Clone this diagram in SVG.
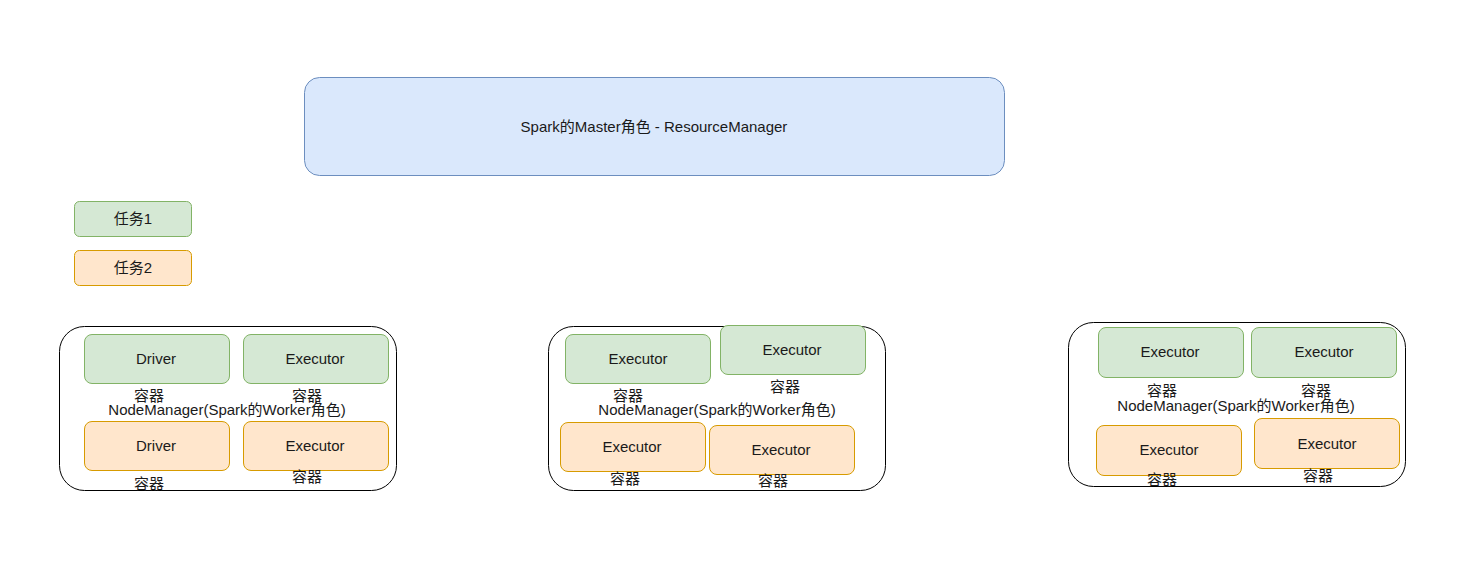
<svg xmlns="http://www.w3.org/2000/svg" width="1474" height="572" viewBox="0 0 1474 572">
<style>
text{font-family:"Liberation Sans","Noto Sans CJK SC",Arial,sans-serif;font-size:15px;fill:#1a1a1a;text-anchor:middle}
.m{fill:#dae8fc;stroke:#6c8ebf;stroke-width:1}
.g{fill:#d5e8d4;stroke:#82b366;stroke-width:1}
.o{fill:#ffe6cc;stroke:#d79b00;stroke-width:1}
.n{fill:#fff;stroke:#000;stroke-width:1}
</style>
<rect width="1474" height="572" fill="#fff"/>
<g id="master"><rect class="m" x="304.5" y="77.5" width="700" height="98" rx="15"/><text x="654" y="132">Spark的Master角色 - ResourceManager</text></g>
<g id="task1"><rect class="g" x="74.5" y="201.5" width="117" height="35" rx="5"/><text x="133" y="224">任务1</text></g>
<g id="task2"><rect class="o" x="74.5" y="250.5" width="117" height="35" rx="5"/><text x="133" y="273">任务2</text></g>

<g id="node1">
<rect class="n" x="59.5" y="326.5" width="337" height="164" rx="25"/>
<text x="227" y="415">NodeManager(Spark的Worker角色)</text>
</g>
<g id="n1-driver-g"><rect class="g" x="84.5" y="334.5" width="145" height="49" rx="7.5"/><text x="156" y="364">Driver</text><text x="149" y="401">容器</text></g>
<g id="n1-exec-g"><rect class="g" x="243.5" y="334.5" width="145" height="49" rx="7.5"/><text x="315" y="364">Executor</text><text x="307" y="401">容器</text></g>
<g id="n1-driver-o"><rect class="o" x="84.5" y="421.5" width="145" height="49" rx="7.5"/><text x="156" y="451">Driver</text><text x="149" y="489">容器</text></g>
<g id="n1-exec-o"><rect class="o" x="243.5" y="421.5" width="145" height="49" rx="7.5"/><text x="315" y="451">Executor</text><text x="307" y="482">容器</text></g>

<g id="node2">
<rect class="n" x="548.5" y="326.5" width="337" height="164" rx="25"/>
<text x="717" y="415">NodeManager(Spark的Worker角色)</text>
</g>
<g id="n2-exec-g1"><rect class="g" x="565.5" y="334.5" width="145" height="49" rx="7.5"/><text x="638" y="364">Executor</text><text x="628" y="401">容器</text></g>
<g id="n2-exec-g2"><rect class="g" x="720.5" y="325.5" width="145" height="49" rx="7.5"/><text x="792" y="355">Executor</text><text x="785" y="392">容器</text></g>
<g id="n2-exec-o1"><rect class="o" x="560.5" y="422.5" width="145" height="49" rx="7.5"/><text x="632" y="452">Executor</text><text x="625" y="484">容器</text></g>
<g id="n2-exec-o2"><rect class="o" x="709.5" y="425.5" width="145" height="49" rx="7.5"/><text x="781" y="455">Executor</text><text x="773" y="486">容器</text></g>

<g id="node3">
<rect class="n" x="1068.5" y="322.5" width="337" height="164" rx="25"/>
<text x="1236" y="411">NodeManager(Spark的Worker角色)</text>
</g>
<g id="n3-exec-g1"><rect class="g" x="1098.5" y="327.5" width="145" height="50" rx="7.5"/><text x="1170" y="357">Executor</text><text x="1162" y="396">容器</text></g>
<g id="n3-exec-g2"><rect class="g" x="1251.5" y="327.5" width="145" height="50" rx="7.5"/><text x="1324" y="357">Executor</text><text x="1316" y="396">容器</text></g>
<g id="n3-exec-o1"><rect class="o" x="1096.5" y="425.5" width="145" height="50" rx="7.5"/><text x="1169" y="455">Executor</text><text x="1162" y="485">容器</text></g>
<g id="n3-exec-o2"><rect class="o" x="1254.5" y="418.5" width="145" height="50" rx="7.5"/><text x="1327" y="449">Executor</text><text x="1318" y="481">容器</text></g>

<g id="connectors"></g>
</svg>
